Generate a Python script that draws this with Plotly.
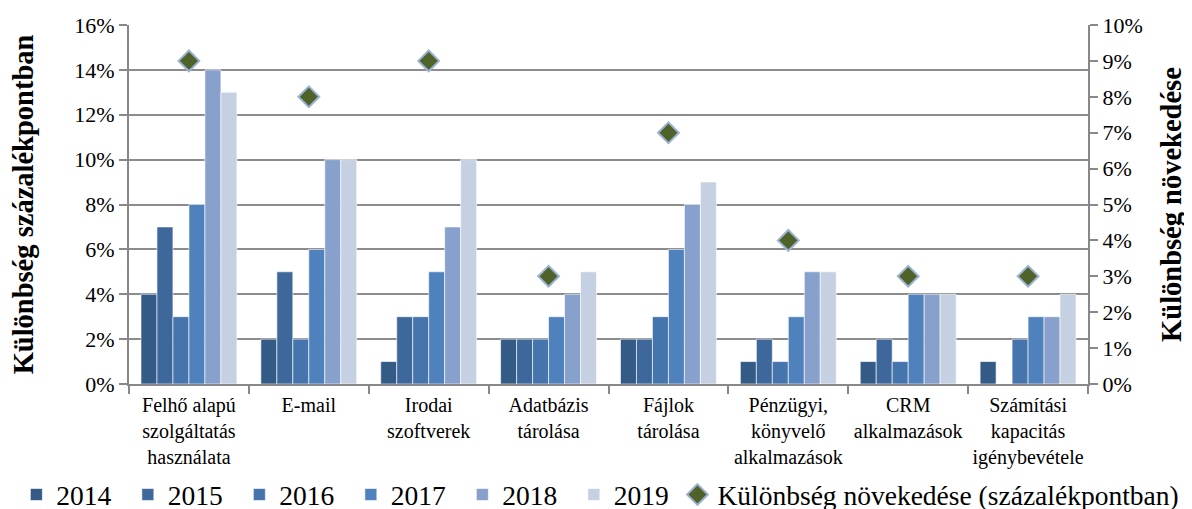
import plotly.graph_objects as go

categories = [
    "Felhő alapú<br>szolgáltatás<br>használata",
    "E-mail",
    "Irodai<br>szoftverek",
    "Adatbázis<br>tárolása",
    "Fájlok<br>tárolása",
    "Pénzügyi,<br>könyvelő<br>alkalmazások",
    "CRM<br>alkalmazások",
    "Számítási<br>kapacitás<br>igénybevétele",
]
years = ["2014", "2015", "2016", "2017", "2018", "2019"]
values_2014 = [0.04, 0.02, 0.01, 0.02, 0.02, 0.01, 0.01, 0.01]
values_2015 = [0.07, 0.05, 0.03, 0.02, 0.02, 0.02, 0.02, 0.00]
values_2016 = [0.03, 0.02, 0.03, 0.02, 0.03, 0.01, 0.01, 0.02]
values_2017 = [0.08, 0.06, 0.05, 0.03, 0.06, 0.03, 0.04, 0.03]
values_2018 = [0.14, 0.10, 0.07, 0.04, 0.08, 0.05, 0.04, 0.03]
values_2019 = [0.13, 0.10, 0.10, 0.05, 0.09, 0.05, 0.04, 0.04]
growth = [0.09, 0.08, 0.09, 0.03, 0.07, 0.04, 0.03, 0.03]

series = [values_2014, values_2015, values_2016, values_2017, values_2018, values_2019]
colors = ['#345A86', '#3E689B', '#4674AD', '#4F81BD', '#87A1CC', '#C5D0E3']

FONT = "Liberation Serif, Times New Roman, serif"
AXIS_GREY = '#888888'

fig = go.Figure()

for year, vals, col in zip(years, series, colors):
    fig.add_trace(go.Bar(
        x=categories,
        y=vals,
        name=year,
        legend='legend',
        marker=dict(color=col, line=dict(color='rgba(255,255,255,0.6)', width=1)),
    ))

fig.add_trace(go.Scatter(
    x=categories,
    y=growth,
    mode='markers',
    name='Különbség növekedése (százalékpontban)',
    yaxis='y2',
    legend='legend2',
    marker=dict(symbol='diamond', size=16, color='#4F6228',
                line=dict(color='#9BB2D6', width=2)),
))

fig.update_layout(
    width=1192,
    height=509,
    margin=dict(l=121, r=112, t=17, b=133),
    plot_bgcolor='white',
    paper_bgcolor='white',
    font=dict(family=FONT, size=22, color='black'),
    barmode='group',
    bargap=0.2,
    bargroupgap=0,
    xaxis=dict(
        tickfont=dict(size=20),
        tickangle=0,
        showline=True,
        linecolor=AXIS_GREY,
        linewidth=2,
        ticks='outside',
        tickson='boundaries',
        ticklen=8,
        tickcolor=AXIS_GREY,
        tickwidth=2,
        ticklabelstandoff=2,
        automargin=False,
    ),
    yaxis=dict(
        range=[0, 0.16],
        dtick=0.02,
        tickformat='.0%',
        showgrid=True,
        gridcolor='#8C8C8C',
        gridwidth=2,
        showline=True,
        linecolor=AXIS_GREY,
        linewidth=2,
        ticks='outside',
        ticklen=8,
        tickcolor=AXIS_GREY,
        tickwidth=2,
        zeroline=False,
        automargin=False,
        title=dict(text='<b>Különbség százalékpontban</b>', font=dict(size=28.5), standoff=43),
    ),
    yaxis2=dict(
        range=[0, 0.10],
        dtick=0.01,
        tickformat='.0%',
        overlaying='y',
        side='right',
        showgrid=False,
        showline=True,
        linecolor=AXIS_GREY,
        linewidth=2,
        ticks='outside',
        ticklen=8,
        tickcolor=AXIS_GREY,
        tickwidth=2,
        zeroline=False,
        automargin=False,
        title=dict(text='<b>Különbség növekedése</b>', font=dict(size=28.5), standoff=19),
    ),
    legend=dict(
        orientation='h',
        xref='container',
        yref='container',
        x=0.007,
        xanchor='left',
        y=0.044,
        yanchor='middle',
        font=dict(size=27.5),
        entrywidth=66.5,
        itemwidth=30,
        traceorder='normal',
    ),
    legend2=dict(
        orientation='h',
        xref='container',
        yref='container',
        x=0.5616,
        xanchor='left',
        y=0.044,
        yanchor='middle',
        font=dict(size=27.5),
        itemwidth=30,
    ),
)

fig.write_html("out.html")
